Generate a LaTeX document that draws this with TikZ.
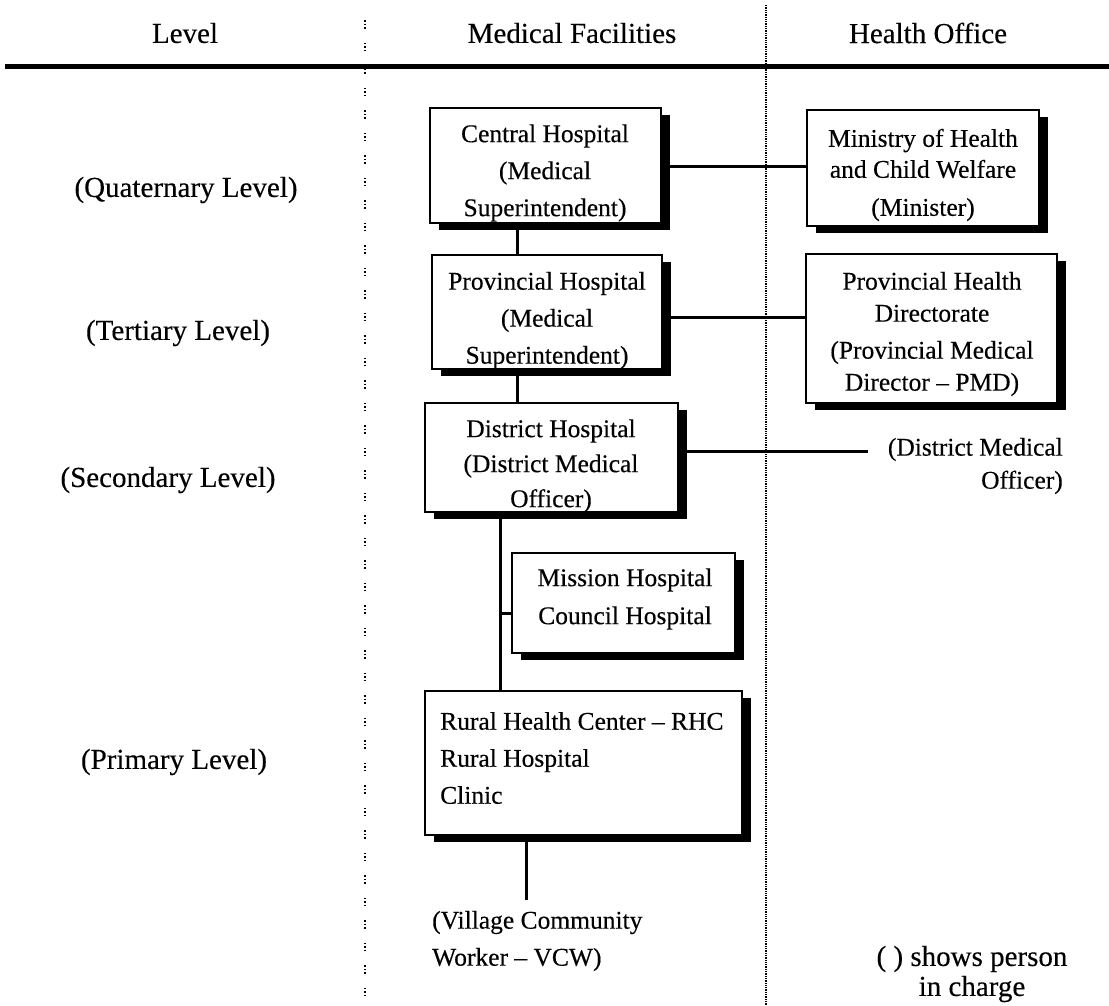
\documentclass[tikz,border=0pt]{standalone}
\usepackage{fontspec}
\setmainfont{Liberation Serif}[FakeBold=0.3]
\usetikzlibrary{shadows}
\begin{document}
\begin{tikzpicture}[x=1pt,y=-1pt,
  box/.style={draw, line width=2.6pt, fill=white, inner sep=0pt,
    general shadow={fill=black, shadow xshift=9pt, shadow yshift=-7pt}},
  btxt/.style={font=\fontsize{25.5}{37}\selectfont, align=center, inner sep=0pt},
  ltxt/.style={font=\fontsize{29}{30}\selectfont, inner sep=0pt},
  conn/.style={line width=3pt},
  sepA/.style={line width=1.6pt, dash pattern=on 1.5pt off 2pt on 1.5pt off 2pt on 1.5pt off 14pt},
  sepB/.style={line width=1.6pt, dash pattern=on 1.3pt off 1pt}]
\useasboundingbox (0,0) rectangle (1109,1005);

% column separators
\coordinate (sA1) at (365,20);  \coordinate (sA2) at (365,1005);
\coordinate (sB1) at (766,5);   \coordinate (sB2) at (766,1005);
\draw[sepA] (sA1) -- (sA2);
\draw[sepB] (sB1) -- (sB2);

% header
\node[ltxt] (hLevel) at (185,33) {Level};
\node[ltxt] (hMed) at (572,33) {Medical Facilities};
\node[ltxt] (hOff) at (928,33) {Health Office};
\coordinate (rule1) at (5,66); \coordinate (rule2) at (1109,66);
\draw[line width=5pt] (rule1) -- (rule2);

% level labels
\node[ltxt] (lQ) at (186,190) {(Quaternary Level)};
\node[ltxt] (lT) at (178,333) {(Tertiary Level)};
\node[ltxt] (lS) at (168,480) {(Secondary Level)};
\node[ltxt] (lP) at (174,762) {(Primary Level)};

% boxes
\node[box, minimum width=231pt, minimum height=115pt] (central) at (545.5,165.5) {};
\node[btxt] (centralT) at (545,173) {Central Hospital\\(Medical\\Superintendent)};

\node[box, minimum width=230pt, minimum height=114pt] (provh) at (547,312) {};
\node[btxt] (provhT) at (547,320.5) {Provincial Hospital\\(Medical\\Superintendent)};

\node[box, minimum width=253pt, minimum height=109pt] (district) at (551.5,457.5) {};
\node[btxt, font=\fontsize{25.5}{35}\selectfont] (districtT) at (551,466) {District Hospital\\(District Medical\\Officer)};

\node[box, minimum width=223pt, minimum height=100pt] (mission) at (623.5,603) {};
\node[btxt, font=\fontsize{25.5}{38}\selectfont] (missionT) at (625,599) {Mission Hospital\\Council Hospital};

\node[box, minimum width=317pt, minimum height=144pt] (rural) at (583.5,763) {};
\node[btxt, align=left, anchor=west] (ruralT) at (440,758) {Rural Health Center -- RHC\\Rural Hospital\\Clinic};

\node[box, minimum width=232pt, minimum height=116pt] (ministry) at (923,168) {};
\node[btxt, font=\fontsize{25.5}{31}\selectfont] (ministryT) at (923,175) {Ministry of Health\\and Child Welfare\\[7pt](Minister)};

\node[box, minimum width=251pt, minimum height=149pt] (phd) at (931.5,328.5) {};
\node[btxt, font=\fontsize{25.5}{32}\selectfont] (phdT) at (932,334) {Provincial Health\\Directorate\\[5pt](Provincial Medical\\Director -- PMD)};

% free texts
\node[btxt, align=right, anchor=east, font=\fontsize{25.5}{33}\selectfont] (dmoT) at (1063,466) {(District Medical\\Officer)};
\node[btxt, align=left, anchor=west] (vcwT) at (432,941) {(Village Community\\Worker -- VCW)};
\node[ltxt, align=center] (noteT) at (972,974) {( ) shows person\\in charge};

% connectors
\coordinate (dmoEnd) at (868,451);
\coordinate (vcwTop) at (526,900);
\draw[conn] ([yshift=-0.5pt]central.east) -- ([yshift=-0.5pt]central.east -| ministry.west);
\draw[conn] ([yshift=-5pt]provh.east) -- ([yshift=-5pt]provh.east -| phd.west);
\draw[conn] ([yshift=6.5pt]district.east) -- (dmoEnd);
\draw[conn] ([xshift=-28.5pt]central.south) -- ([xshift=-28.5pt]central.south |- provh.north);
\draw[conn] ([xshift=-30pt]provh.south) -- ([xshift=-30pt]provh.south |- district.north);
\draw[conn] ([xshift=-51.5pt]district.south) -- ([xshift=-51.5pt]district.south |- rural.north);
\draw[conn] ([yshift=-10pt]mission.west) -- ([yshift=-10pt,xshift=-12pt]mission.west);
\draw[conn] ([xshift=-57.5pt]rural.south) -- (vcwTop);
\end{tikzpicture}
\end{document}
